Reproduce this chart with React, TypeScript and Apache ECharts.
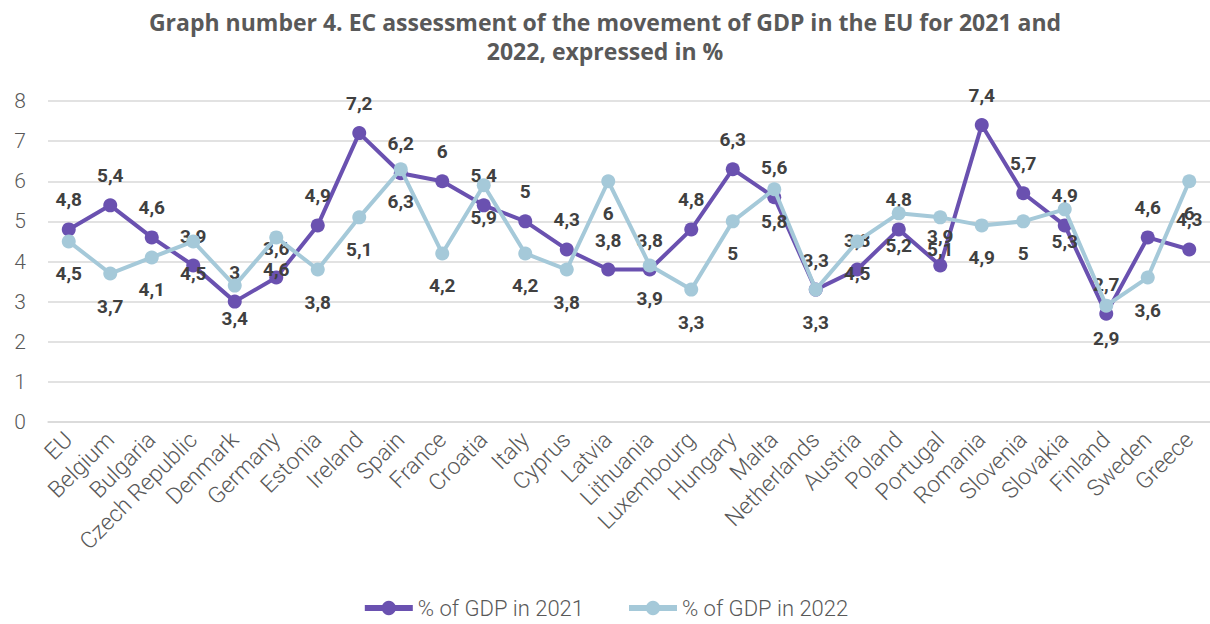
import React, { useEffect, useRef } from "react";
import * as echarts from "echarts";

const categories = [
  "EU", "Belgium", "Bulgaria", "Czech Republic", "Denmark", "Germany", "Estonia", "Ireland",
  "Spain", "France", "Croatia", "Italy", "Cyprus", "Latvia", "Lithuania", "Luxembourg",
  "Hungary", "Malta", "Netherlands", "Austria", "Poland", "Portugal", "Romania", "Slovenia",
  "Slovakia", "Finland", "Sweden", "Greece",
];
const gdp2021 = [4.8, 5.4, 4.6, 3.9, 3.0, 3.6, 4.9, 7.2, 6.2, 6.0, 5.4, 5.0, 4.3, 3.8, 3.8, 4.8, 6.3, 5.6, 3.3, 3.8, 4.8, 3.9, 7.4, 5.7, 4.9, 2.7, 4.6, 4.3];
const gdp2022 = [4.5, 3.7, 4.1, 4.5, 3.4, 4.6, 3.8, 5.1, 6.3, 4.2, 5.9, 4.2, 3.8, 6.0, 3.9, 3.3, 5.0, 5.8, 3.3, 4.5, 5.2, 5.1, 4.9, 5.0, 5.3, 2.9, 3.6, 6.0];
const yTicks = [0, 8, 1];
const seriesNames = ["% of GDP in 2021", "% of GDP in 2022"];
const seriesColors = ["#6a51b0", "#a5c9d9"];
const titleText = "Graph number 4. EC assessment of the movement of GDP in the EU for 2021 and\n2022, expressed in %";

const fmt = (p: any) => String(p.value).replace(".", ",");

export default function App() {
  const ref = useRef<HTMLDivElement>(null);
  useEffect(() => {
    if (!ref.current) return;
    const chart = echarts.init(ref.current, null, { renderer: "svg" });
    const labelFont = { fontFamily: "Roboto", fontWeight: "bold" as const, fontSize: 19, color: "#404040" };
    chart.setOption({
      animation: false,
      title: {
        text: titleText,
        left: "center",
        top: 2,
        textStyle: { fontFamily: "Open Sans", fontWeight: "bold", fontSize: 23, color: "#595959", lineHeight: 29 },
      },
      legend: {
        bottom: 0,
        left: "center",
        itemWidth: 48,
        itemHeight: 18,
        itemGap: 42,
        lineStyle: { width: 6 },
        textStyle: { fontFamily: "Roboto", fontWeight: 300, fontSize: 22, color: "#595959" },
        data: seriesNames.map((n, i) => ({ name: n, lineStyle: { width: 6, color: seriesColors[i] } })),
      },
      grid: { left: 48, top: 101, width: 1167, height: 321, containLabel: false },
      xAxis: {
        type: "category",
        data: categories,
        boundaryGap: true,
        axisLine: { show: true, lineStyle: { color: "#d9d9d9", width: 1.5 } },
        axisTick: { show: false },
        axisLabel: {
          rotate: 45,
          interval: 0,
          margin: 14,
          fontFamily: "Roboto",
          fontWeight: 300,
          fontSize: 23,
          color: "#595959",
        },
      },
      yAxis: {
        type: "value",
        min: yTicks[0],
        max: yTicks[1],
        interval: yTicks[2],
        axisLine: { show: false },
        axisTick: { show: false },
        splitLine: { lineStyle: { color: "#d9d9d9", width: 1.5 } },
        axisLabel: { margin: 22, fontFamily: "Roboto", fontWeight: 300, fontSize: 21, color: "#595959" },
      },
      series: [
        {
          name: seriesNames[0],
          type: "line",
          data: gdp2021,
          symbol: "circle",
          symbolSize: 14,
          lineStyle: { color: seriesColors[0], width: 4 },
          itemStyle: { color: seriesColors[0] },
          label: { show: true, position: "top", distance: 13, formatter: fmt, ...labelFont },
          z: 2,
        },
        {
          name: seriesNames[1],
          type: "line",
          data: gdp2022,
          symbol: "circle",
          symbolSize: 14,
          lineStyle: { color: seriesColors[1], width: 4 },
          itemStyle: { color: seriesColors[1] },
          label: { show: true, position: "bottom", distance: 16, formatter: fmt, ...labelFont },
          z: 3,
        },
      ],
    });
    return () => chart.dispose();
  }, []);
  return <div ref={ref} style={{ width: 1210, height: 624, position: "absolute", left: 0, top: 0 }} />;
}
